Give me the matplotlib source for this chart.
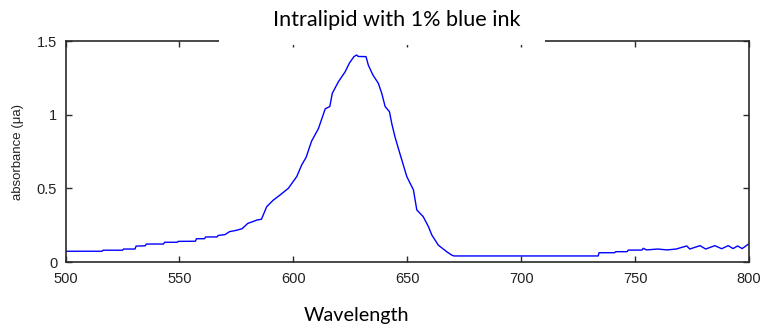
import numpy as np
import matplotlib.pyplot as plt
from matplotlib.patches import Rectangle

# spectrum : intralipid + 1% blue ink
wavelength = [500, 516, 516.5, 525, 525.5, 530.5, 531, 535, 535.5, 543, 543.5, 549,
              549.5, 557, 557.5, 561, 561.5, 566.5, 567, 570, 572, 575, 577.5, 578,
              580, 582.4, 584, 586, 588.3, 591.2, 594.2, 597.8, 601.5, 603.7, 605.6,
              608, 611, 614, 616, 617.1, 619.8, 622.7, 624.6, 626.6, 627.8, 628.5,
              631.9, 632.9, 634.9, 637.3, 638.8, 640.3, 642.2, 643.2, 644.6, 646.3,
              649.8, 652.7, 654.2, 657, 659.3, 660.8, 663.6, 667.3, 669.5, 670.5,
              733.8, 734.2, 741, 741.5, 746.5, 747, 753, 753.6, 755, 760, 764, 768,
              772.7, 774, 778.5, 781, 785, 788, 790.9, 793, 795, 797, 799.8, 800]
absorbance = [0.073, 0.073, 0.080, 0.080, 0.088, 0.088, 0.108, 0.110, 0.122, 0.122, 0.134, 0.134,
              0.140, 0.141, 0.158, 0.158, 0.170, 0.170, 0.180, 0.186, 0.206, 0.215, 0.226, 0.233,
              0.262, 0.275, 0.285, 0.290, 0.375, 0.420, 0.455, 0.500, 0.580, 0.660, 0.710,
              0.820, 0.905, 1.040, 1.055, 1.145, 1.224, 1.290, 1.350, 1.394, 1.405, 1.395,
              1.394, 1.337, 1.270, 1.213, 1.145, 1.055, 1.020, 0.940, 0.850, 0.760,
              0.580, 0.490, 0.353, 0.308, 0.240, 0.183, 0.115, 0.070, 0.047, 0.041,
              0.041, 0.063, 0.063, 0.070, 0.070, 0.081, 0.081, 0.093, 0.082, 0.088, 0.082, 0.088,
              0.109, 0.088, 0.111, 0.088, 0.111, 0.090, 0.111, 0.091, 0.109, 0.091, 0.122, 0.122]

xticks = [500, 550, 600, 650, 700, 750, 800]
yticks = [0, 0.5, 1, 1.5]
yticklabels = ['0', '0.5', '1', '1.5']

fig = plt.figure(figsize=(7.62, 3.28), dpi=100)
ax = fig.add_axes([65.5/762, 1-262/328, (749-65.5)/762, (262-41)/328])

ax.plot(wavelength, absorbance, color=(0, 0, 1), lw=1.0)
ax.set_xlim(500, 800)
ax.set_ylim(0, 1.5)
ax.set_xticks(xticks)
ax.set_xticklabels([str(v) for v in xticks])
ax.set_yticks(yticks)
ax.set_yticklabels(yticklabels)

for s in ax.spines.values():
    s.set_linewidth(1.2)
    s.set_color('#2a2a2a')
ax.tick_params(direction='in', top=True, right=True, length=4.3, width=1.0,
               color='#2a2a2a', labelcolor='#222222', labelsize=10.5,
               labelfontfamily='Liberation Sans')
ax.tick_params(axis='x', pad=7)
ax.tick_params(axis='y', pad=6)
ax.set_ylabel('absorbance (\u03bca)', fontsize=9.5, family='Liberation Sans',
              labelpad=9, color='#222222')

# white band behind the title, hides part of the top axis
fig.patches.append(Rectangle((219/762, 1-44.5/328), (545-219)/762, 44.5/328,
                             transform=fig.transFigure, facecolor='white',
                             edgecolor='none', zorder=5))
fig.text(397/762, 1-20/328, 'Intralipid with 1% blue ink', ha='center', va='center',
         fontsize=15.6, family='Lato', zorder=6)
fig.text(356/762, 1-315/328, 'Wavelength', ha='center', va='center',
         fontsize=14.2, family='Lato', zorder=6)

plt.savefig('out.png', dpi=100)
